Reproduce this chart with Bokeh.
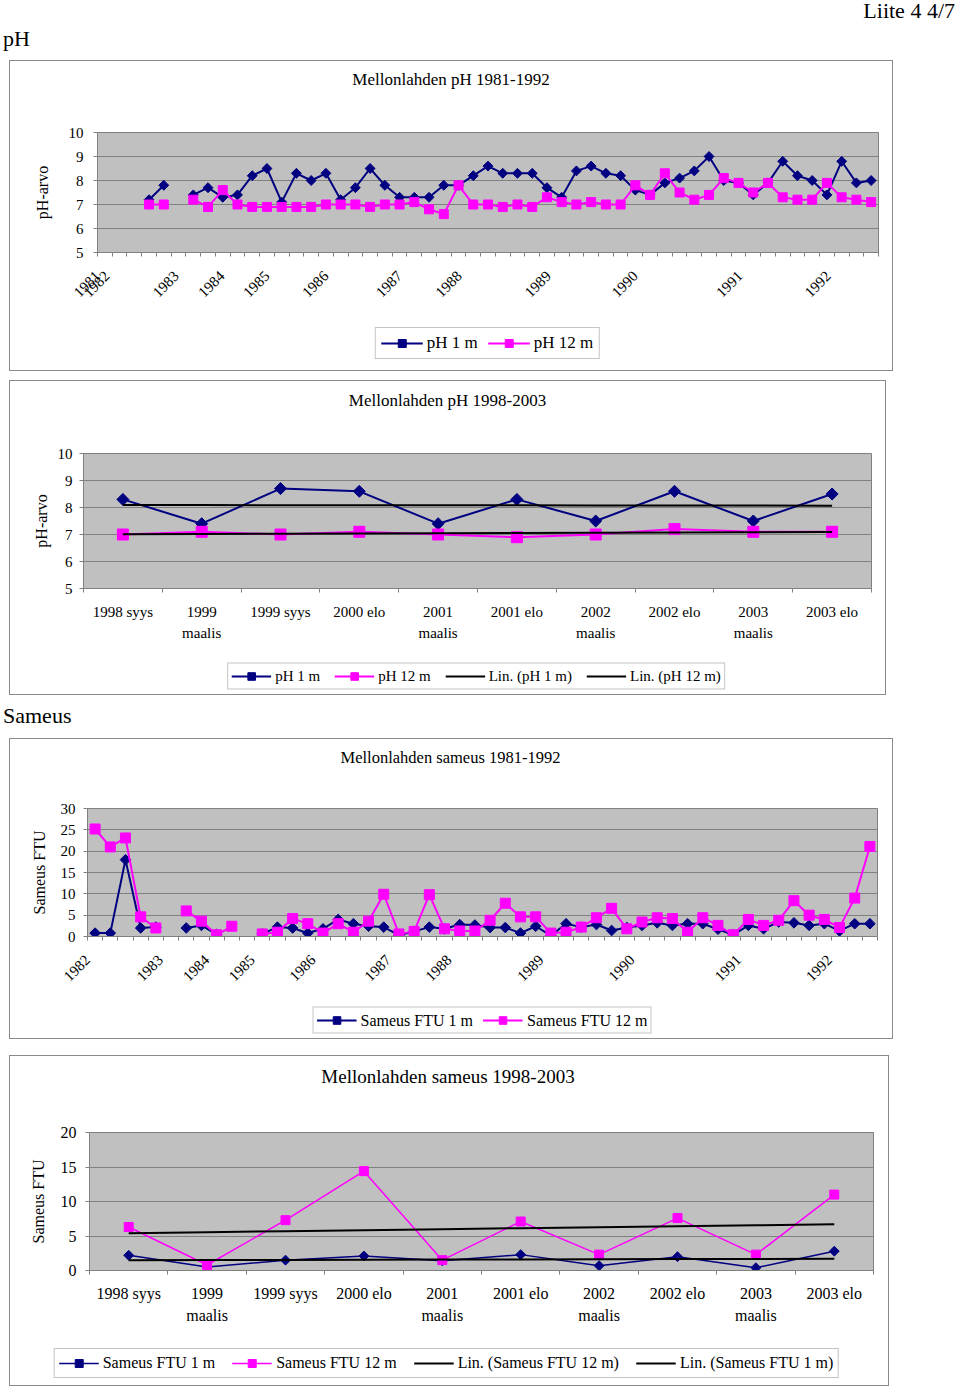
import math
import numpy as np
from bokeh.plotting import figure
from bokeh.models import Range1d, FixedTicker, Legend, LegendItem, Div
from bokeh.layouts import column
from bokeh.embed import file_html
from bokeh.resources import INLINE

N = float("nan")
FONT = "Liberation Serif"
NAVY = "#000080"
MAGENTA = "#FF00FF"
GRAY = "#808080"

# ---------------- data ----------------
# Chart 1: pH 1981-1992 (53 sampling slots)
ph1_8192 = [N, N, N, 7.2, 7.8, N, 7.4, 7.7, 7.3, 7.4, 8.2, 8.5, 7.1, 8.3, 8.0, 8.3,
            7.2, 7.7, 8.5, 7.8, 7.3, 7.3, 7.3, 7.8, 7.8, 8.2, 8.6, 8.3, 8.3, 8.3,
            7.7, 7.3, 8.4, 8.6, 8.3, 8.2, 7.6, 7.4, 7.9, 8.1, 8.4, 9.0, 8.0, 7.9,
            7.4, 7.9, 8.8, 8.2, 8.0, 7.4, 8.8, 7.9, 8.0]
ph12_8192 = [N, N, N, 7.0, 7.0, N, 7.2, 6.9, 7.6, 7.0, 6.9, 6.9, 6.9, 6.9, 6.9, 7.0,
             7.0, 7.0, 6.9, 7.0, 7.0, 7.1, 6.8, 6.6, 7.8, 7.0, 7.0, 6.9, 7.0, 6.9,
             7.3, 7.1, 7.0, 7.1, 7.0, 7.0, 7.8, 7.4, 8.3, 7.5, 7.2, 7.4, 8.1, 7.9,
             7.5, 7.9, 7.3, 7.2, 7.2, 7.9, 7.3, 7.2, 7.1]
years_ph_labels = ["1981", "1982", "1983", "1984", "1985", "1986", "1987",
                   "1988", "1989", "1990", "1991", "1992"]
years_ph_pos = [-0.5, 0.15, 4.85, 7.95, 11.0, 15.0, 20.0, 24.05, 30.1, 36.0, 43.1, 49.1]

# Chart 2: pH 1998-2003
cats_9803 = ["1998 syys", "1999\nmaalis", "1999 syys", "2000 elo", "2001\nmaalis",
             "2001 elo", "2002\nmaalis", "2002 elo", "2003\nmaalis", "2003 elo"]
ph1_9803 = [8.3, 7.4, 8.7, 8.6, 7.4, 8.3, 7.5, 8.6, 7.5, 8.5]
ph12_9803 = [7.0, 7.1, 7.0, 7.1, 7.0, 6.9, 7.0, 7.2, 7.1, 7.1]

# Chart 3: turbidity 1981-1992 (52 sampling slots)
s1_8192 = [0.8, 0.8, 18.0, 2.0, 2.2, N, 2.0, 2.6, 0.5, N,
           N, 0.6, 2.2, 2.0, 0.8, 1.8, 4.0, 3.0, 2.4, 2.2,
           0.3, 1.2, 2.2, 1.8, 2.8, 2.7, 2.1, 2.1, 0.8, 2.4,
           0.2, 3.0, 2.2, 2.8, 1.4, 2.1, 2.6, 3.2, 2.6, 3.0,
           3.0, 1.7, 0.4, 2.6, 1.8, 3.4, 3.2, 2.6, 3.0, 1.3,
           3.0, 3.0]
s12_8192 = [25.2, 21.0, 23.1, 4.6, 2.0, N, 6.0, 3.6, 0.4, 2.4,
            N, 0.6, 1.0, 4.2, 3.0, 0.8, 3.0, 1.0, 3.6, 9.9,
            0.6, 1.2, 9.8, 1.8, 1.3, 1.3, 3.8, 7.8, 4.6, 4.6,
            0.8, 1.0, 2.2, 4.4, 6.6, 1.8, 3.4, 4.4, 4.2, 1.0,
            4.4, 2.6, 0.4, 4.0, 2.6, 3.8, 8.4, 5.0, 4.0, 2.1,
            9.0, 21.1]
years_s_labels = ["1982", "1983", "1984", "1985", "1986", "1987", "1988",
                  "1989", "1990", "1991", "1992"]
years_s_pos = [-0.5, 4.3, 7.35, 10.35, 14.35, 19.3, 23.3, 29.35, 35.35, 42.35, 48.35]

# Chart 4: turbidity 1998-2003
s1_9803 = [2.2, 0.5, 1.5, 2.1, 1.4, 2.3, 0.7, 2.0, 0.4, 2.8]
s12_9803 = [6.3, 0.8, 7.3, 14.4, 1.5, 7.1, 2.3, 7.6, 2.3, 11.0]

page_titles = ["Mellonlahden pH 1981-1992", "Mellonlahden pH 1998-2003",
               "Mellonlahden sameus 1981-1992", "Mellonlahden sameus 1998-2003"]

LB = 87   # common left border: plots stacked in a column share it
RB = 14

# ---------------- helpers ----------------
flow = {"y": 0}


def place(p, top, left):
    p.margin = (top - flow["y"], 0, 0, left)
    flow["y"] = top + p.height


def make_fig(w, h, top_b, bottom_b, xr, yr):
    p = figure(width=w, height=h, x_range=xr, y_range=yr,
               output_backend="svg", toolbar_location=None,
               min_border_left=LB, min_border_right=RB,
               min_border_top=top_b, min_border_bottom=bottom_b,
               background_fill_color="#C0C0C0", border_fill_color=None,
               outline_line_color=GRAY, outline_line_width=1)
    p.xgrid.visible = False
    p.ygrid.grid_line_color = GRAY
    p.ygrid.grid_line_width = 1
    for ax in (p.xaxis[0], p.yaxis[0]):
        ax.axis_line_color = GRAY
        ax.major_tick_line_color = GRAY
        ax.minor_tick_line_color = GRAY
        ax.major_label_text_font = FONT
        ax.major_label_text_color = "black"
        ax.axis_label_text_font = FONT
        ax.axis_label_text_font_style = "normal"
        ax.axis_label_text_color = "black"
    return p


def style_y(p, ticks, label, font_size, standoff, label_standoff):
    ya = p.yaxis[0]
    ya.ticker = FixedTicker(ticks=ticks, minor_ticks=[])
    p.ygrid.ticker = ya.ticker
    ya.major_tick_out = 4
    ya.major_tick_in = 0
    ya.minor_tick_out = 0
    ya.minor_tick_in = 0
    ya.major_label_text_font_size = font_size
    ya.major_label_standoff = standoff
    ya.axis_label = label
    ya.axis_label_text_font_size = "16px"
    ya.axis_label_standoff = label_standoff


def style_x(p, ticks, labels, boundaries, font_size, standoff, orientation):
    xa = p.xaxis[0]
    xa.ticker = FixedTicker(ticks=ticks, minor_ticks=boundaries)
    xa.major_label_overrides = {t: l for t, l in zip(ticks, labels)}
    xa.major_tick_out = 0
    xa.major_tick_in = 0
    xa.minor_tick_out = 4
    xa.minor_tick_in = 0
    xa.major_label_text_font_size = font_size
    xa.major_label_standoff = standoff
    xa.major_label_orientation = orientation
    xa.major_label_text_line_height = 1.35


def draw_series(p, x, y, color, marker, size, lw=2):
    rs = [p.line(x, y, line_color=color, line_width=lw)]
    if marker == "diamond":
        rs.append(p.scatter(x, y, marker="square", angle=math.pi / 4, size=size,
                            fill_color=color, line_color=color))
    elif marker == "square":
        rs.append(p.scatter(x, y, marker="square", size=size,
                            fill_color=color, line_color=color))
    return rs


def legend_fig(cx, cy, frame_w, h, entries, font_size, glyph_w, spacing, padding, item_h):
    """A frame-only plot carrying the chart's legend, centred at (cx, cy).
    The series are drawn again there but fall outside its (empty) y-range,
    so only the legend swatches show."""
    w = LB + frame_w + RB
    p = figure(width=w, height=h, x_range=Range1d(0, 1), y_range=Range1d(-3, -2),
               x_axis_type=None, y_axis_type=None, output_backend="svg",
               toolbar_location=None, min_border_left=LB, min_border_right=RB,
               min_border_top=0, min_border_bottom=0, outline_line_color=None,
               background_fill_color=None, border_fill_color=None)
    items = []
    for label, x, y, color, marker, size, lw in entries:
        rs = draw_series(p, x, y, color, marker, size, lw)
        items.append(LegendItem(label=label, renderers=rs))
    leg = Legend(items=items, orientation="horizontal", location="center",
                 border_line_color="#8a8a8a", border_line_width=1,
                 background_fill_color="white", background_fill_alpha=1,
                 label_text_font=FONT, label_text_font_size=font_size,
                 label_text_color="black",
                 glyph_width=glyph_w, glyph_height=item_h, label_height=item_h,
                 label_standoff=4, spacing=spacing, padding=padding, margin=0)
    p.add_layout(leg)
    frame_left = cx - frame_w / 2
    place(p, int(round(cy - h / 2)), int(round(frame_left - LB)))
    return p


# ---------------- chart 1 ----------------
x1 = list(range(len(ph1_8192)))
p1 = make_fig(882, 309, 71, 118, Range1d(-0.5, len(x1) - 0.5), Range1d(5, 10))
style_y(p1, [5, 6, 7, 8, 9, 10], "pH-arvo", "15px", 10, 15)
style_x(p1, years_ph_pos, years_ph_labels, [k - 0.5 for k in range(len(x1) + 1)],
        "15px", 17, math.pi / 4)
draw_series(p1, x1, ph1_8192, NAVY, "diamond", 7)
draw_series(p1, x1, ph12_8192, MAGENTA, "square", 9)
place(p1, 61, 10)
leg1 = legend_fig(487.5, 343, 400, 40,
                  [("pH 1 m", x1, ph1_8192, NAVY, "diamond", 7, 2),
                   ("pH 12 m", x1, ph12_8192, MAGENTA, "square", 9, 2)],
                  "17px", 42, 10, 5, 20)

# ---------------- chart 2 ----------------
x2 = list(range(len(cats_9803)))
p2 = make_fig(889, 313, 72, 106, Range1d(-0.5, len(x2) - 0.5), Range1d(5, 10))
style_y(p2, [5, 6, 7, 8, 9, 10], "pH-arvo", "15px", 7, 5)
style_x(p2, x2, cats_9803, [k - 0.5 for k in range(len(x2) + 1)], "15px", 11,
        "horizontal")
draw_series(p2, x2, ph1_9803, NAVY, "diamond", 8.5)
draw_series(p2, x2, ph12_9803, MAGENTA, "square", 11)
fit1_9803 = np.polyval(np.polyfit(x2, ph1_9803, 1), x2)
fit12_9803 = np.polyval(np.polyfit(x2, ph12_9803, 1), x2)
draw_series(p2, x2, fit1_9803, "black", None, 0)
draw_series(p2, x2, fit12_9803, "black", None, 0)
place(p2, 381, -4)
leg2 = legend_fig(476, 676.5, 560, 40,
                  [("pH 1 m", x2, ph1_9803, NAVY, "diamond", 7, 2),
                   ("pH 12 m", x2, ph12_9803, MAGENTA, "square", 9, 2),
                   ("Lin. (pH 1 m)", x2, fit1_9803, "black", None, 0, 2),
                   ("Lin. (pH 12 m)", x2, fit12_9803, "black", None, 0, 2)],
                  "15px", 40, 14, 3, 19)

# ---------------- chart 3 ----------------
x3 = list(range(len(s1_8192)))
p3 = make_fig(891, 299, 69, 102, Range1d(-0.5, len(x3) - 0.5), Range1d(0, 30))
style_y(p3, [0, 5, 10, 15, 20, 25, 30], "Sameus FTU", "15px", 8, 10)
style_x(p3, years_s_pos, years_s_labels, [k - 0.5 for k in range(len(x3) + 1)],
        "15px", 17, math.pi / 4)
draw_series(p3, x3, s1_8192, NAVY, "diamond", 7.5)
draw_series(p3, x3, s12_8192, MAGENTA, "square", 10)
place(p3, 739, 0)
leg3 = legend_fig(482, 1020.5, 400, 40,
                  [("Sameus FTU 1 m", x3, s1_8192, NAVY, "diamond", 7, 2),
                   ("Sameus FTU 12 m", x3, s12_8192, MAGENTA, "square", 9, 2)],
                  "16px", 40, 10, 3, 19)

# ---------------- chart 4 ----------------
x4 = list(range(len(cats_9803)))
p4 = make_fig(885, 329, 76, 115, Range1d(-0.5, len(x4) - 0.5), Range1d(0, 20))
style_y(p4, [0, 5, 10, 15, 20], "Sameus FTU", "16px", 9, 11)
style_x(p4, x4, cats_9803, [k - 0.5 for k in range(len(x4) + 1)], "16px", 10,
        "horizontal")
draw_series(p4, x4, s1_9803, NAVY, "diamond", 7, lw=1.5)
draw_series(p4, x4, s12_9803, MAGENTA, "square", 9, lw=1.5)
fit1_s = np.polyval(np.polyfit(x4, s1_9803, 1), x4)
fit12_s = np.polyval(np.polyfit(x4, s12_9803, 1), x4)
draw_series(p4, x4, fit1_s, "black", None, 0)
draw_series(p4, x4, fit12_s, "black", None, 0)
place(p4, 1056, 2)
leg4 = legend_fig(446, 1363, 790, 40,
                  [("Sameus FTU 1 m", x4, s1_9803, NAVY, "diamond", 7, 1.5),
                   ("Sameus FTU 12 m", x4, s12_9803, MAGENTA, "square", 8, 1.5),
                   ("Lin. (Sameus FTU 12 m)", x4, fit12_s, "black", None, 0, 2),
                   ("Lin. (Sameus FTU 1 m)", x4, fit1_s, "black", None, 0, 2)],
                  "16px", 40, 17, 4, 20)

charts = column(p1, leg1, p2, leg2, p3, leg3, p4, leg4, spacing=0)


# ---------------- overlay: page texts, chart titles, chart boxes ----------------
def span(x, y, text, size, center=False, right=False):
    pos = f"right:{x}px;" if right else f"left:{x}px;"
    tr = "transform:translate(-50%,-50%);" if center else ""
    return (f'<span style="position:absolute;{pos}top:{y}px;{tr}font-size:{size}px;'
            f'line-height:1.2;white-space:nowrap;">{text}</span>')


def box(x, y, w, h):
    return (f'<div style="position:absolute;left:{x}px;top:{y}px;width:{w}px;height:{h}px;'
            f'border:1px solid #8a8a8a;box-sizing:border-box;"></div>')


overlay_html = (
    '<div style="position:relative;width:960px;height:1389px;'
    'font-family:\'Liberation Serif\';color:black;">'
    + span(3, 26, "pH", 22) + span(5, -2, "Liite 4 4/7", 22, right=True)
    + span(3, 703, "Sameus", 22)
    + box(9, 60, 884, 311) + box(9, 380, 877, 315)
    + box(9, 738, 884, 301) + box(9, 1055, 880, 331)
    + span(451, 80, page_titles[0], 17, center=True)
    + span(447.5, 401, page_titles[1], 17, center=True)
    + span(450.5, 758, page_titles[2], 16.5, center=True)
    + span(448, 1077, page_titles[3], 19, center=True)
    + '</div>')
overlay = Div(text=overlay_html, width=960, height=1389, margin=(0, 0, 0, 0),
              styles={"position": "absolute", "left": "0px", "top": "0px",
                      "pointer-events": "none", "z-index": "5"})

html = file_html([charts, overlay], INLINE, "Liite 4 4/7")
html = html.replace("</head>", "<style>html, body { overflow: hidden; }</style></head>", 1)
with open("out.html", "w") as f:
    f.write(html)
